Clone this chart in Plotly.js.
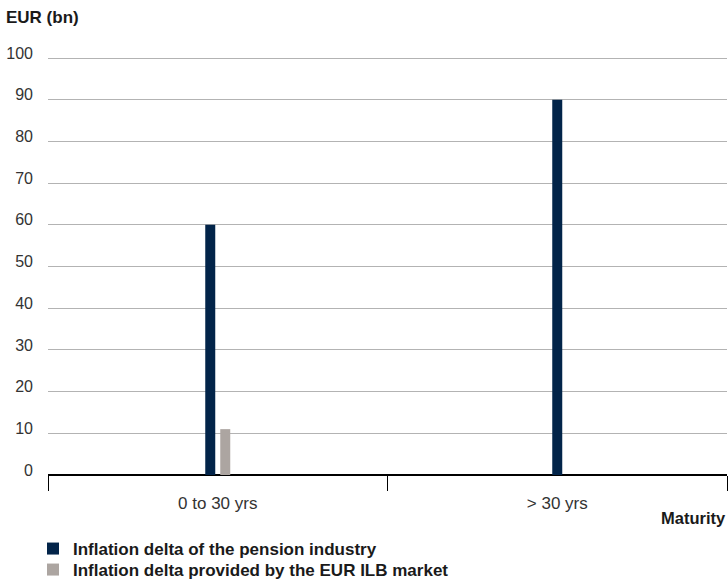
<!DOCTYPE html>
<html>
<head>
<meta charset="utf-8">
<script src="https://cdn.plot.ly/plotly-3.0.1.min.js"></script>
<style>html,body{margin:0;padding:0;background:#fff;}#chart{width:728px;height:584px;}</style>
</head>
<body>
<div id="chart"></div>
<script>
const categories = ["0 to 30 yrs", "> 30 yrs"];
const pensionDelta = [60, 90];
const ilbCategories = ["0 to 30 yrs"];
const ilbDelta = [11];
const seriesNames = ["Inflation delta of the pension industry", "Inflation delta provided by the EUR ILB market"];
const yTicks = [0, 10, 20, 30, 40, 50, 60, 70, 80, 90, 100];

const W = 728, H = 584;
const M = {l: 48, r: 1, t: 56, b: 109, autoexpand: false};
const plotW = W - M.l - M.r;
const plotH = H - M.t - M.b;
const catPx = plotW / categories.length;
const barPx = 10;
const bw = barPx / catPx;

const legendFont = {size: 17, color: '#1a1a1a', family: 'Liberation Sans, Arial, sans-serif', weight: 'bold'};

const traces = [
  {
    type: 'bar', name: seriesNames[0], x: categories, y: pensionDelta,
    width: bw, offset: [-12.5 / catPx, -5 / catPx],
    marker: {color: '#022449'}, hoverinfo: 'x+y', legend: 'legend'
  },
  {
    type: 'bar', name: seriesNames[1], x: ilbCategories, y: ilbDelta,
    width: bw, offset: [2.5 / catPx],
    marker: {color: '#aca5a1'}, hoverinfo: 'x+y', legend: 'legend2'
  }
];

const layout = {
  width: W, height: H,
  margin: M,
  barmode: 'overlay',
  paper_bgcolor: '#fff', plot_bgcolor: '#fff',
  font: {family: 'Liberation Sans, Arial, sans-serif', color: '#333', size: 16},
  showlegend: true,
  legend: {
    orientation: 'v', xref: 'container', x: 33 / W, xanchor: 'left',
    yref: 'container', y: 1 - 549 / H, yanchor: 'middle',
    font: legendFont, tracegroupgap: 0, itemwidth: 30, borderwidth: 0,
    bgcolor: 'rgba(0,0,0,0)'
  },
  legend2: {
    orientation: 'v', xref: 'container', x: 33 / W, xanchor: 'left',
    yref: 'container', y: 1 - 570 / H, yanchor: 'middle',
    font: legendFont, tracegroupgap: 0, itemwidth: 30, borderwidth: 0,
    bgcolor: 'rgba(0,0,0,0)'
  },
  xaxis: {
    type: 'category', categoryorder: 'array', categoryarray: categories,
    range: [-0.5, 1.5],
    showline: false, showgrid: false, zeroline: false,
    ticks: 'outside', tickson: 'boundaries', ticklen: 15, tickcolor: '#000', tickwidth: 1,
    tickfont: {size: 17, color: '#333'}, ticklabelstandoff: 16,
    fixedrange: true, automargin: false
  },
  yaxis: {
    range: [0, 100.5], tickvals: yTicks, ticktext: yTicks.map(String),
    showgrid: true, gridcolor: '#b3b3b3', gridwidth: 1,
    zeroline: true, zerolinecolor: '#000', zerolinewidth: 2,
    showline: false, ticks: '',
    tickfont: {size: 16, color: '#333'},
    ticklabelstandoff: 14, ticklabelshift: -5,
    fixedrange: true, automargin: false
  },
  annotations: [
    {text: '<b>EUR (bn)</b>', xref: 'paper', yref: 'paper', x: (4 - M.l) / plotW, y: (H - M.b - 18) / plotH,
     xanchor: 'left', yanchor: 'middle', showarrow: false, font: {size: 17, color: '#1a1a1a'}},
    {text: '<b>Maturity</b>', xref: 'paper', yref: 'paper', x: (728 - M.l) / plotW, y: (H - M.b - 518) / plotH,
     xanchor: 'right', yanchor: 'middle', showarrow: false, font: {size: 16.5, color: '#1a1a1a'}}
  ]
};

Plotly.newPlot('chart', traces, layout, {displayModeBar: false, staticPlot: true});
</script>
</body>
</html>
